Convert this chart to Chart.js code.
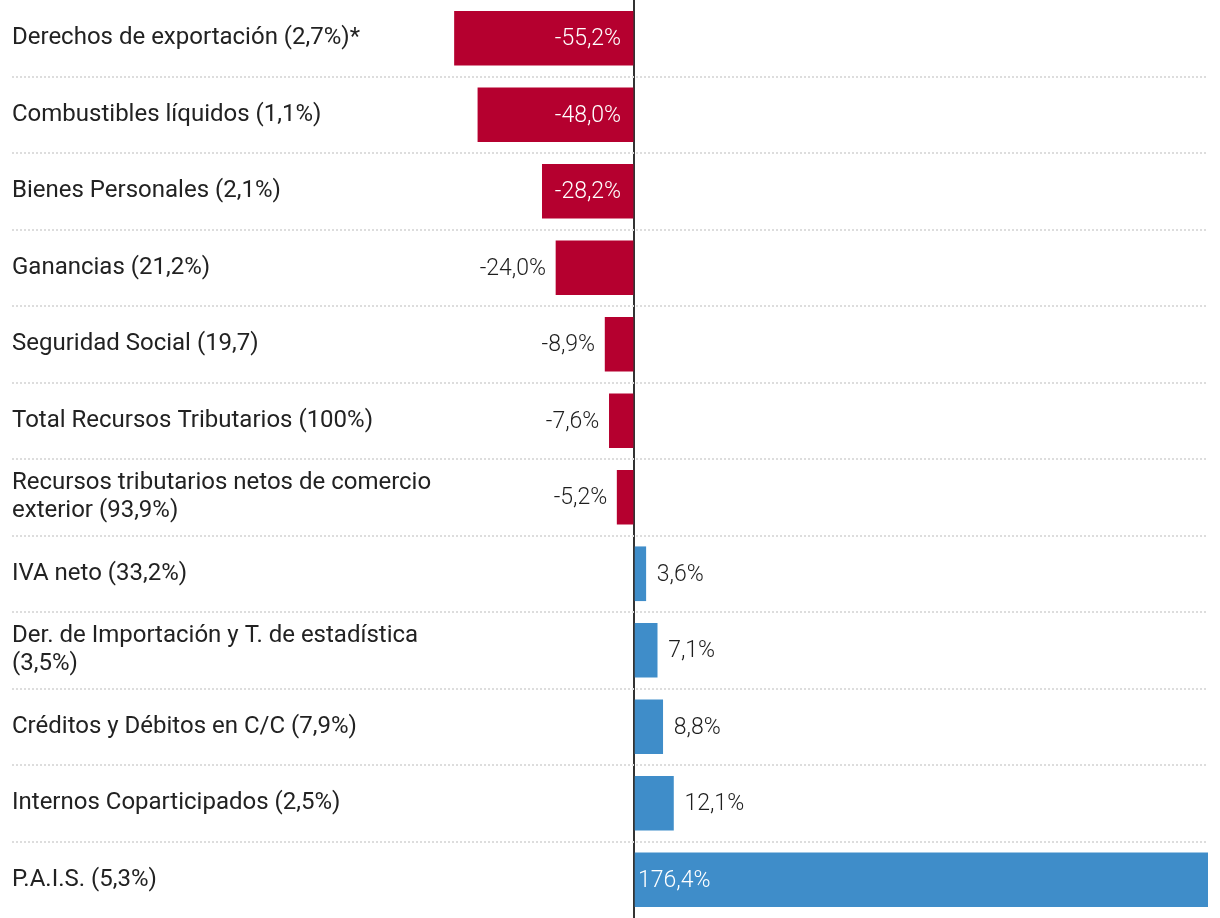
<!DOCTYPE html>
<html>
<head>
<meta charset="utf-8">
<script src="https://cdn.jsdelivr.net/npm/chart.js@4"></script>
<style>
  html, body { margin: 0; padding: 0; background: #fff; }
  #wrap { width: 1220px; height: 918px; position: relative; }
</style>
</head>
<body>
<div id="wrap"><canvas id="chart"></canvas></div>
<script>
// Data
const categories = [
  'Derechos de exportación (2,7%)*',
  'Combustibles líquidos (1,1%)',
  'Bienes Personales (2,1%)',
  'Ganancias (21,2%)',
  'Seguridad Social (19,7)',
  'Total Recursos Tributarios (100%)',
  ['Recursos tributarios netos de comercio', 'exterior (93,9%)'],
  'IVA neto (33,2%)',
  ['Der. de Importación y T. de estadística', '(3,5%)'],
  'Créditos y Débitos en C/C (7,9%)',
  'Internos Coparticipados (2,5%)',
  'P.A.I.S. (5,3%)'
];
const variation = [-55.2, -48.0, -28.2, -24.0, -8.9, -7.6, -5.2, 3.6, 7.1, 8.8, 12.1, 176.4];

const RED  = '#b5002f';
const BLUE = '#3f8dc9';
const FONT = 'Roboto, "Open Sans", sans-serif';

const fmt = v => v.toFixed(1).replace('.', ',') + '%';

// Value labels: inside the bar when it is wide enough, outside otherwise
const valueLabels = {
  id: 'valueLabels',
  afterDatasetsDraw(chart) {
    const ctx  = chart.ctx;
    const meta = chart.getDatasetMeta(0);
    ctx.save();
    ctx.font = '300 23px ' + FONT;
    ctx.textBaseline = 'middle';
    meta.data.forEach((bar, i) => {
      const v      = variation[i];
      const width  = Math.abs(bar.x - bar.base);
      const inside = width > 85;
      let x;
      if (v < 0) {
        ctx.textAlign = 'right';
        x = inside ? bar.base - 12 : bar.x - 10;
      } else {
        ctx.textAlign = 'left';
        x = inside ? bar.base + 3 : bar.x + 11;
      }
      ctx.fillStyle = inside ? '#ffffff' : '#1e1e1e';
      ctx.fillText(fmt(v), x, bar.y + 1);
    });
    ctx.restore();
  }
};

new Chart(document.getElementById('chart'), {
  type: 'bar',
  data: {
    labels: categories,
    datasets: [{
      data: variation,
      backgroundColor: variation.map(v => v < 0 ? RED : BLUE),
      borderWidth: 0,
      barThickness: 54
    }]
  },
  options: {
    indexAxis: 'y',
    responsive: true,
    maintainAspectRatio: false,
    animation: false,
    layout: { padding: { left: 12, right: 12, top: 0, bottom: 0 } },
    scales: {
      x: {
        min: -191.2,
        max: 176.4,
        ticks: { display: false },
        border: { display: false },
        grid: {
          drawTicks: false,
          color: c => c.tick && c.tick.value === 0 ? '#333333' : 'rgba(0,0,0,0)',
          lineWidth: 2
        },
        afterBuildTicks: axis => { axis.ticks = [{ value: 0 }]; }
      },
      y: {
        ticks: {
          mirror: true,
          padding: 0,
          color: '#222222',
          font: { family: FONT, size: 24, lineHeight: 1.15 }
        },
        border: { display: false, dash: [2, 2] },
        grid: {
          drawTicks: false,
          lineWidth: 2,
          color: c => (c.type !== 'tick' || c.index === 0) ? 'rgba(0,0,0,0)' : '#dddddd'
        },
        afterFit: axis => { axis.paddingTop = 0; axis.paddingBottom = 0; }
      }
    },
    plugins: {
      legend: { display: false },
      tooltip: { enabled: false }
    }
  },
  plugins: [valueLabels]
});
</script>
</body>
</html>
